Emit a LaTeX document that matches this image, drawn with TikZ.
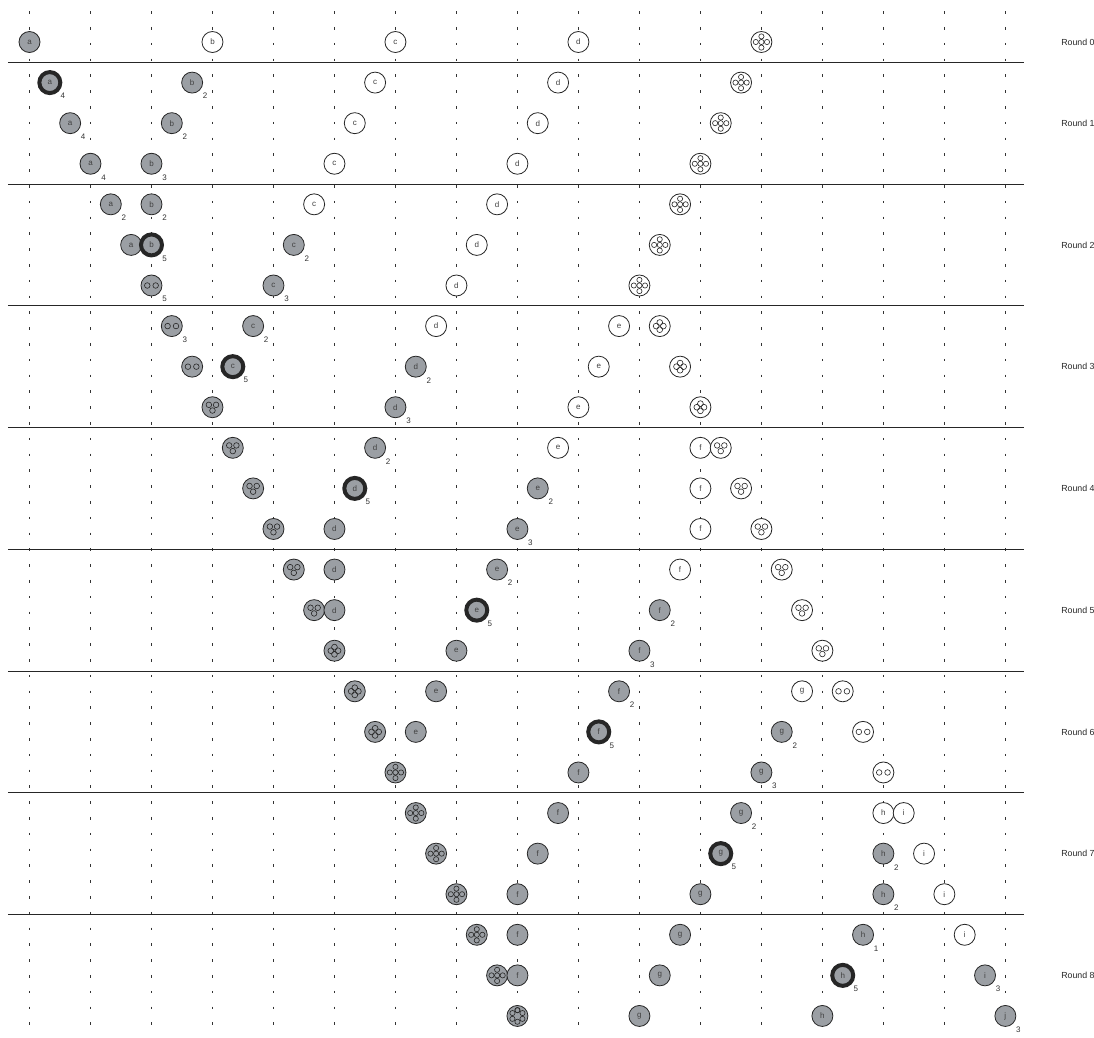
\documentclass[tikz,border=0pt]{standalone}
\usepackage{fontspec}
\setmainfont{Liberation Sans}
\definecolor{agentgray}{RGB}{155,159,164}
\definecolor{inkgray}{RGB}{65,65,65}

\begin{document}
\begin{tikzpicture}[x=20.33pt,y=-40.58pt,
  agent/.style={circle,draw=black!85,line width=0.8pt,minimum size=21pt,
    inner sep=0pt,outer sep=0pt,font=\fontsize{8}{9}\selectfont,text=inkgray},
  done/.style={agent,fill=agentgray},
  free/.style={agent,fill=white},
  hot/.style={done,line width=4pt},
  sub/.style={font=\fontsize{8}{9}\selectfont,text=black!80,inner sep=0pt,
    label distance=4.5pt},
  dot/.style={draw=black!85,line width=0.6pt},
  pair/.style={path picture={
    \foreach \dx/\dy in {-4.2/0,4.2/0}
      \draw[dot] ([shift={(\dx pt,\dy pt)}]path picture bounding box.center) circle (2.8pt);}},
  trio/.style={path picture={
    \foreach \dx/\dy in {-3.6/2.4,3.6/2.4,0/-3.3}
      \draw[dot] ([shift={(\dx pt,\dy pt)}]path picture bounding box.center) circle (2.8pt);}},
  quad/.style={path picture={
    \foreach \dx/\dy in {0/3.6,-3.6/0,3.6/0,0/-3.6}
      \draw[dot] ([shift={(\dx pt,\dy pt)}]path picture bounding box.center) circle (2.9pt);}},
  penta/.style={path picture={
    \foreach \dx/\dy in {0/5.6,-5.6/0,0/0,5.6/0,0/-5.6}
      \draw[dot] ([shift={(\dx pt,\dy pt)}]path picture bounding box.center) circle (2.6pt);}},
  hexa/.style={path picture={
    \foreach \ang in {90,150,...,450}
      \draw[dot] ([shift={(\ang:5.8pt)}]path picture bounding box.center) circle (2.6pt);}},
  grid/.style={draw=black!80,line width=0.9pt,dash pattern=on 2.6pt off 13.2pt},
  rule/.style={draw=black!85,line width=1pt},
  round/.style={anchor=west,font=\fontsize{8.8}{10}\selectfont,text=black!85}]

  \useasboundingbox (-1.451,-1.035) rectangle (52.36,24.54);

  % 竖虚线
  \foreach \k in {0,...,16}
    \draw[grid] (3*\k,-0.76) -- (3*\k,24.54);

  % 分隔线
  \foreach \r in {0.5,3.5,...,21.5}
    \draw[rule] (-1.058,\r) -- (48.92,\r);

  % 轮次标注
  \node[round] (R0) at (50.58,0) {Round 0};
  \foreach \k in {1,...,8}
    \node[round] (R\k) at (50.58,3*\k-1) {Round \k};

  % 第 0 轮
  \node[done] (a0) at (0,0) {a};
  \node[free] (b0) at (9,0) {b};
  \node[free] (c0) at (18,0) {c};
  \node[free] (d0) at (27,0) {d};
  \node[free,penta] (v0) at (36,0) {};

  % 第 1 轮
  \node[hot,label={[sub]-45:4}] (a1) at (1,1) {a};
  \node[done,label={[sub]-45:2}] (b1) at (8,1) {b};
  \node[free] (c1) at (17,1) {c};
  \node[free] (d1) at (26,1) {d};
  \node[free,penta] (v1) at (35,1) {};

  \node[done,label={[sub]-45:4}] (a2) at (2,2) {a};
  \node[done,label={[sub]-45:2}] (b2) at (7,2) {b};
  \node[free] (c2) at (16,2) {c};
  \node[free] (d2) at (25,2) {d};
  \node[free,penta] (v2) at (34,2) {};

  \node[done,label={[sub]-45:4}] (a3) at (3,3) {a};
  \node[done,label={[sub]-45:3}] (b3) at (6,3) {b};
  \node[free] (c3) at (15,3) {c};
  \node[free] (d3) at (24,3) {d};
  \node[free,penta] (v3) at (33,3) {};

  % 第 2 轮
  \node[done,label={[sub]-45:2}] (a4) at (4,4) {a};
  \node[done,label={[sub]-45:2}] (b4) at (6,4) {b};
  \node[free] (c4) at (14,4) {c};
  \node[free] (d4) at (23,4) {d};
  \node[free,penta] (v4) at (32,4) {};

  \node[done] (a5) at (5,5) {a};
  \node[hot,label={[sub]-45:5}] (b5) at (6,5) {b};
  \node[done,label={[sub]-45:2}] (c5) at (13,5) {c};
  \node[free] (d5) at (22,5) {d};
  \node[free,penta] (v5) at (31,5) {};

  \node[done,pair,label={[sub]-45:5}] (p6) at (6,6) {};
  \node[done,label={[sub]-45:3}] (c6) at (12,6) {c};
  \node[free] (d6) at (21,6) {d};
  \node[free,penta] (v6) at (30,6) {};

  % 第 3 轮
  \node[done,pair,label={[sub]-45:3}] (p7) at (7,7) {};
  \node[done,label={[sub]-45:2}] (c7) at (11,7) {c};
  \node[free] (d7) at (20,7) {d};
  \node[free] (e7) at (29,7) {e};
  \node[free,quad] (q7) at (31,7) {};

  \node[done,pair] (p8) at (8,8) {};
  \node[hot,label={[sub]-45:5}] (c8) at (10,8) {c};
  \node[done,label={[sub]-45:2}] (d8) at (19,8) {d};
  \node[free] (e8) at (28,8) {e};
  \node[free,quad] (q8) at (32,8) {};

  \node[done,trio] (t9) at (9,9) {};
  \node[done,label={[sub]-45:3}] (d9) at (18,9) {d};
  \node[free] (e9) at (27,9) {e};
  \node[free,quad] (q9) at (33,9) {};

  % 第 4 轮
  \node[done,trio] (t10) at (10,10) {};
  \node[done,label={[sub]-45:2}] (d10) at (17,10) {d};
  \node[free] (e10) at (26,10) {e};
  \node[free] (f10) at (33,10) {f};
  \node[free,trio] (u10) at (34,10) {};

  \node[done,trio] (t11) at (11,11) {};
  \node[hot,label={[sub]-45:5}] (d11) at (16,11) {d};
  \node[done,label={[sub]-45:2}] (e11) at (25,11) {e};
  \node[free] (f11) at (33,11) {f};
  \node[free,trio] (u11) at (35,11) {};

  \node[done,trio] (t12) at (12,12) {};
  \node[done] (d12) at (15,12) {d};
  \node[done,label={[sub]-45:3}] (e12) at (24,12) {e};
  \node[free] (f12) at (33,12) {f};
  \node[free,trio] (u12) at (36,12) {};

  % 第 5 轮
  \node[done,trio] (t13) at (13,13) {};
  \node[done] (d13) at (15,13) {d};
  \node[done,label={[sub]-45:2}] (e13) at (23,13) {e};
  \node[free] (f13) at (32,13) {f};
  \node[free,trio] (u13) at (37,13) {};

  \node[done,trio] (t14) at (14,14) {};
  \node[done] (d14) at (15,14) {d};
  \node[hot,label={[sub]-45:5}] (e14) at (22,14) {e};
  \node[done,label={[sub]-45:2}] (f14) at (31,14) {f};
  \node[free,trio] (u14) at (38,14) {};

  \node[done,quad] (q15) at (15,15) {};
  \node[done] (e15) at (21,15) {e};
  \node[done,label={[sub]-45:3}] (f15) at (30,15) {f};
  \node[free,trio] (u15) at (39,15) {};

  % 第 6 轮
  \node[done,quad] (q16) at (16,16) {};
  \node[done] (e16) at (20,16) {e};
  \node[done,label={[sub]-45:2}] (f16) at (29,16) {f};
  \node[free] (g16) at (38,16) {g};
  \node[free,pair] (p16) at (40,16) {};

  \node[done,quad] (q17) at (17,17) {};
  \node[done] (e17) at (19,17) {e};
  \node[hot,label={[sub]-45:5}] (f17) at (28,17) {f};
  \node[done,label={[sub]-45:2}] (g17) at (37,17) {g};
  \node[free,pair] (p17) at (41,17) {};

  \node[done,penta] (v18) at (18,18) {};
  \node[done] (f18) at (27,18) {f};
  \node[done,label={[sub]-45:3}] (g18) at (36,18) {g};
  \node[free,pair] (p18) at (42,18) {};

  % 第 7 轮
  \node[done,penta] (v19) at (19,19) {};
  \node[done] (f19) at (26,19) {f};
  \node[done,label={[sub]-45:2}] (g19) at (35,19) {g};
  \node[free] (h19) at (42,19) {h};
  \node[free] (i19) at (43,19) {i};

  \node[done,penta] (v20) at (20,20) {};
  \node[done] (f20) at (25,20) {f};
  \node[hot,label={[sub]-45:5}] (g20) at (34,20) {g};
  \node[done,label={[sub]-45:2}] (h20) at (42,20) {h};
  \node[free] (i20) at (44,20) {i};

  \node[done,penta] (v21) at (21,21) {};
  \node[done] (f21) at (24,21) {f};
  \node[done] (g21) at (33,21) {g};
  \node[done,label={[sub]-45:2}] (h21) at (42,21) {h};
  \node[free] (i21) at (45,21) {i};

  % 第 8 轮
  \node[done,penta] (v22) at (22,22) {};
  \node[done] (f22) at (24,22) {f};
  \node[done] (g22) at (32,22) {g};
  \node[done,label={[sub]-45:1}] (h22) at (41,22) {h};
  \node[free] (i22) at (46,22) {i};

  \node[done,penta] (v23) at (23,23) {};
  \node[done] (f23) at (24,23) {f};
  \node[done] (g23) at (31,23) {g};
  \node[hot,label={[sub]-45:5}] (h23) at (40,23) {h};
  \node[done,label={[sub]-45:3}] (i23) at (47,23) {i};

  \node[done,hexa] (s24) at (24,24) {};
  \node[done] (g24) at (30,24) {g};
  \node[done] (h24) at (39,24) {h};
  \node[done,label={[sub]-45:3}] (j24) at (48,24) {j};
\end{tikzpicture}
\end{document}
